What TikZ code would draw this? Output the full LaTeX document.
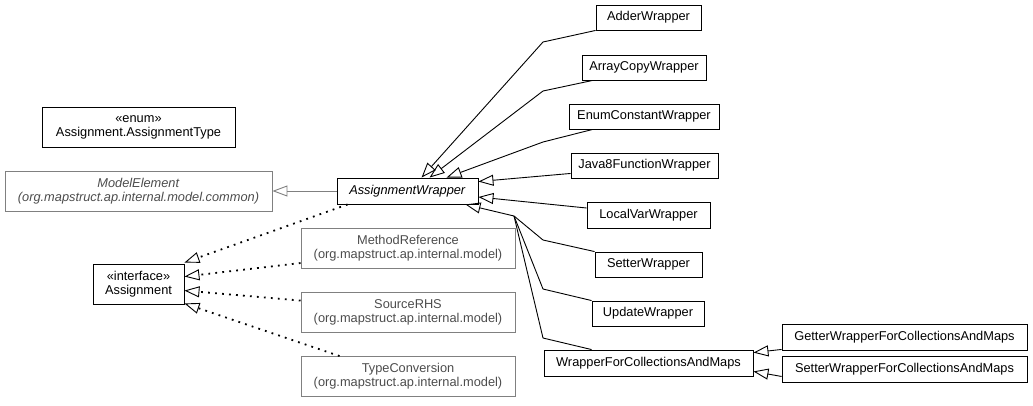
\documentclass[tikz,border=0pt]{standalone}
\usepackage{fontspec}
\setmainfont{Liberation Sans}
\usetikzlibrary{arrows.meta,positioning}

\begin{document}
\begin{tikzpicture}[x=1pt,y=-1pt,align=center,font=\fontsize{12.8}{14.2}\selectfont]
\tikzstyle{class}=[draw=black,line width=0.9pt,inner sep=0pt,minimum height=25pt]
\tikzstyle{ext}=[draw=black!50,line width=0.9pt,inner sep=0pt,text=black!70,minimum height=40pt]
\tikzstyle{inherit}=[-{Triangle[open,length=15pt,width=11pt]},line width=0.9pt]
\tikzstyle{impl}=[-{Triangle[open,length=15pt,width=11pt,line width=0.9pt]},line width=1.8pt,dash pattern=on 1.8pt off 5.2pt]

\useasboundingbox (0,0) rectangle (1033,405);

% left column
\node[class,minimum width=193pt,minimum height=40pt] (enum) at (138.5,127) {«enum»\\Assignment.AssignmentType};
\node[ext,minimum width=267pt] (model) at (138.5,191) {\textit{ModelElement}\\\textit{(org.mapstruct.ap.internal.model.common)}};
\node[class,minimum width=91pt,minimum height=40pt] (asg) at (138.5,284) {«interface»\\Assignment};

% middle column
\node[class,minimum width=141pt,minimum height=26pt] (aw) at (407.5,191) {\textit{AssignmentWrapper}};
\node[ext,minimum width=214pt] (mref) at (408,248.5) {MethodReference\\(org.mapstruct.ap.internal.model)};
\node[ext,minimum width=214pt] (srhs) at (408,312) {SourceRHS\\(org.mapstruct.ap.internal.model)};
\node[ext,minimum width=214pt] (tconv) at (408,376.5) {TypeConversion\\(org.mapstruct.ap.internal.model)};

% wrappers
\node[class,minimum width=105pt] (adder) at (648.5,17.5) {AdderWrapper};
\node[class,minimum width=124pt] (acopy) at (644,67.5) {ArrayCopyWrapper};
\node[class,minimum width=150pt] (econst) at (644,116.5) {EnumConstantWrapper};
\node[class,minimum width=147pt] (jfun) at (644.5,165.5) {Java8FunctionWrapper};
\node[class,minimum width=123pt,minimum height=26pt] (lvar) at (648.5,215) {LocalVarWrapper};
\node[class,minimum width=107pt] (setw) at (648.5,264.5) {SetterWrapper};
\node[class,minimum width=112pt] (updw) at (648,313.5) {UpdateWrapper};
\node[class,minimum width=209pt,minimum height=26pt] (wfcm) at (648.5,363) {WrapperForCollectionsAndMaps};
\node[class,minimum width=245pt,minimum height=26pt] (gwfcm) at (904.5,337) {GetterWrapperForCollectionsAndMaps};
\node[class,minimum width=245pt,minimum height=26pt] (swfcm) at (904.5,369) {SetterWrapperForCollectionsAndMaps};

\path
  (aw) edge [inherit,draw=black!50] (model)
  ([yshift=5pt]jfun.south west) edge [inherit] ([yshift=-4pt]aw.north east)
  ([yshift=7pt]lvar.west) edge [inherit] ([yshift=-6pt]aw.east)
  ([yshift=1pt]gwfcm.south west) edge [inherit] ([yshift=-3pt]wfcm.north east)
  ([yshift=6pt]swfcm.south west) edge [inherit] ([yshift=5pt]wfcm.south east);

\draw[inherit] (adder.south west) -- (543,42) -- ([xshift=85pt]aw.north west);
\draw[inherit] ([xshift=11pt]acopy.south west) -- (543,91) -- ([xshift=93pt]aw.north west);
\draw[inherit] ([xshift=24pt]econst.south west) -- (543,142) -- ([xshift=110pt]aw.north west);
\draw[inherit] (setw.north west) -- (543,240) -- (514,216) -- ([xshift=-13pt]aw.south east);
\draw[line width=0.9pt] (updw.north west) -- (543,289) -- (514,216);
\draw[line width=0.9pt] ([xshift=48pt]wfcm.north west) -- (543,338) -- (514,216);

\path
  ([xshift=11pt]aw.south west) edge [impl] ([yshift=1pt]asg.north east)
  ([yshift=-35pt]mref.north west) edge [impl] ([yshift=-13pt]asg.north east)
  ([yshift=-9pt]srhs.north west) edge [impl] ([yshift=-27pt]asg.north east)
  ([xshift=39pt]tconv.north west) edge [impl] ([yshift=1pt]asg.south east);
\end{tikzpicture}
\end{document}
